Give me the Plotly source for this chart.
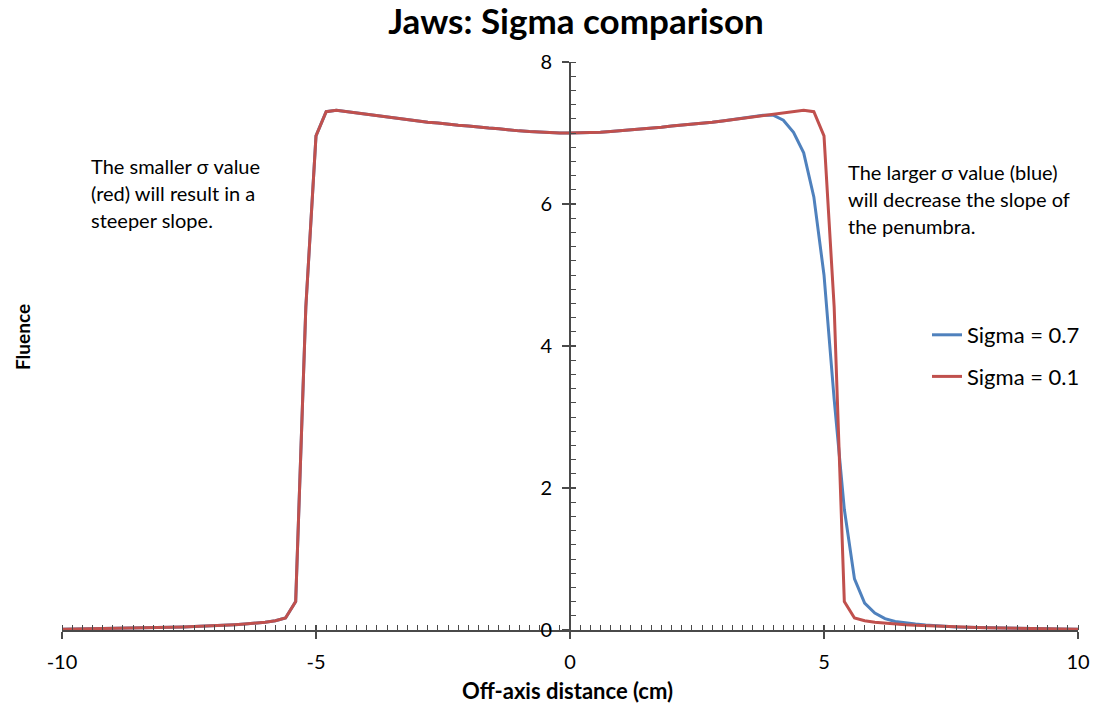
import plotly.graph_objects as go

# Off-axis positions (cm), sampled every 0.2 cm
x_cm = [round(-10 + 0.2 * i, 1) for i in range(101)]

# Fluence profile for sigma = 0.1 (sharp penumbra)
fluence_sigma_01 = [
    0.010, 0.012, 0.014, 0.016, 0.018, 0.020, 0.023, 0.026, 0.029, 0.032,
    0.035, 0.039, 0.043, 0.048, 0.053, 0.060, 0.067, 0.075, 0.085, 0.096,
    0.110, 0.130, 0.170, 0.400, 4.550, 6.960, 7.300, 7.320, 7.300, 7.280,
    7.260, 7.240, 7.220, 7.200, 7.190, 7.170, 7.150, 7.140, 7.120, 7.110,
    7.100, 7.080, 7.070, 7.060, 7.040, 7.030, 7.020, 7.010, 7.000, 7.000,
    7.000,
    7.000, 7.000, 7.010, 7.020, 7.030, 7.040, 7.060, 7.070, 7.080, 7.100,
    7.110, 7.120, 7.140, 7.150, 7.170, 7.190, 7.200, 7.220, 7.240, 7.260,
    7.280, 7.300, 7.320, 7.300, 6.960, 4.550, 0.400, 0.170, 0.130, 0.110,
    0.096, 0.085, 0.075, 0.067, 0.060, 0.053, 0.048, 0.043, 0.039, 0.035,
    0.032, 0.029, 0.026, 0.023, 0.020, 0.018, 0.016, 0.014, 0.012, 0.010,
]

# Fluence profile for sigma = 0.7 (wider penumbra on the right jaw)
fluence_sigma_07 = [
    0.010, 0.012, 0.014, 0.016, 0.018, 0.020, 0.023, 0.026, 0.029, 0.032,
    0.035, 0.039, 0.043, 0.048, 0.053, 0.060, 0.067, 0.075, 0.085, 0.096,
    0.110, 0.130, 0.170, 0.400, 4.550, 6.960, 7.300, 7.320, 7.300, 7.280,
    7.260, 7.240, 7.220, 7.200, 7.190, 7.170, 7.150, 7.140, 7.120, 7.110,
    7.100, 7.080, 7.070, 7.060, 7.040, 7.030, 7.020, 7.010, 7.000, 7.000,
    7.000,
    7.000, 7.000, 7.010, 7.020, 7.030, 7.040, 7.060, 7.070, 7.080, 7.100,
    7.110, 7.120, 7.140, 7.150, 7.170, 7.190, 7.210, 7.230, 7.250, 7.250,
    7.180, 7.010, 6.720, 6.100, 5.000, 3.250, 1.700, 0.720, 0.380, 0.240,
    0.160, 0.120, 0.100, 0.085, 0.072, 0.060, 0.050, 0.043, 0.039, 0.035,
    0.032, 0.029, 0.026, 0.023, 0.020, 0.018, 0.016, 0.014, 0.012, 0.010,
]

series_names = ["Sigma = 0.7", "Sigma = 0.1"]
series_colors = ["#4F81BD", "#C0504D"]

x_ticks = [-10, -5, 0, 5, 10]
y_ticks = [0, 2, 4, 6, 8]

left_note = ["The smaller σ value", "(red) will result in a", "steeper slope."]
right_note = ["The larger σ value (blue)", "will decrease the slope of", "the penumbra."]

FONT = "Lato"
AXIS_COLOR = "#4a4a4a"

# Plot-area geometry in pixels (used to place free text in paper coordinates)
ML, MR, MT, MB = 62, 16, 62, 77
W, H = 1094, 707
PW, PH = W - ML - MR, H - MT - MB


def px_x(px):
    return (px - ML) / PW


def px_y(py):
    return (H - MB - py) / PH


fig = go.Figure()
for i, (name, ys, col) in enumerate(zip(series_names, [fluence_sigma_07, fluence_sigma_01], series_colors)):
    fig.add_trace(go.Scatter(
        x=x_cm, y=ys, name=name, mode="lines", legendgroup=f"g{i}",
        line=dict(color=col, width=3),
    ))

# Empty trace that hosts the overlay axes used for the inner half of major ticks
fig.add_trace(go.Scatter(x=[], y=[], xaxis="x2", yaxis="y2",
                         showlegend=False, hoverinfo="skip"))

annotations = [
    dict(text="<b>Off-axis distance (cm)</b>", xref="paper", yref="paper",
         x=px_x(567), y=px_y(690), xanchor="center", yanchor="middle",
         showarrow=False, font=dict(family=FONT, size=22, color="#000000")),
    dict(text="<b>Fluence</b>", xref="paper", yref="paper",
         x=px_x(22), y=px_y(337), xanchor="center", yanchor="middle",
         textangle=-90, showarrow=False,
         font=dict(family=FONT, size=19, color="#000000")),
]
for line, cy in zip(left_note, [166, 193, 220]):
    annotations.append(dict(text=line, xref="paper", yref="paper",
                            x=px_x(89), y=px_y(cy), xanchor="left", yanchor="middle",
                            showarrow=False, font=dict(family=FONT, size=20, color="#000000")))
for line, cy in zip(right_note, [172, 199, 226]):
    annotations.append(dict(text=line, xref="paper", yref="paper",
                            x=px_x(846), y=px_y(cy), xanchor="left", yanchor="middle",
                            showarrow=False, font=dict(family=FONT, size=20, color="#000000")))

fig.update_layout(
    width=W, height=H,
    margin=dict(l=ML, r=MR, t=MT, b=MB, autoexpand=False),
    paper_bgcolor="white", plot_bgcolor="white",
    font=dict(family=FONT, color="#000000"),
    showlegend=True,
    legend=dict(
        x=px_x(927), y=px_y(356), xanchor="left", yanchor="middle",
        font=dict(family=FONT, size=22, color="#000000"),
        bgcolor="rgba(0,0,0,0)", tracegroupgap=10, itemwidth=30,
    ),
    xaxis=dict(
        range=[-10, 10], tickvals=x_ticks, ticktext=[str(v) for v in x_ticks],
        showgrid=False, zeroline=False, automargin=False,
        showline=True, linecolor=AXIS_COLOR, linewidth=1.8,
        ticks="outside", ticklen=7, tickwidth=1.6, tickcolor=AXIS_COLOR,
        minor=dict(dtick=0.2, ticks="inside", ticklen=5, tickwidth=1.3,
                   tickcolor=AXIS_COLOR, showgrid=False),
        tickfont=dict(family=FONT, size=20, color="#000000"),
        ticklabelstandoff=6,
        anchor="y",
    ),
    yaxis=dict(
        range=[0, 8], tickvals=y_ticks, ticktext=[str(v) for v in y_ticks],
        showgrid=False, zeroline=False, automargin=False,
        showline=True, linecolor=AXIS_COLOR, linewidth=1.8,
        ticks="outside", ticklen=7, tickwidth=1.6, tickcolor=AXIS_COLOR,
        minor=dict(dtick=0.2, ticks="inside", ticklen=5, tickwidth=1.3,
                   tickcolor=AXIS_COLOR, showgrid=False),
        tickfont=dict(family=FONT, size=20, color="#000000"),
        ticklabelstandoff=6,
        anchor="free", position=0.5,
    ),
    xaxis2=dict(
        range=[-10, 10], tickvals=x_ticks, overlaying="x", anchor="y",
        showgrid=False, zeroline=False, showline=False, showticklabels=False,
        automargin=False,
        ticks="inside", ticklen=5, tickwidth=1.6, tickcolor=AXIS_COLOR,
    ),
    yaxis2=dict(
        range=[0, 8], tickvals=y_ticks, overlaying="y", anchor="free", position=0.5,
        showgrid=False, zeroline=False, showline=False, showticklabels=False,
        automargin=False,
        ticks="inside", ticklen=5, tickwidth=1.6, tickcolor=AXIS_COLOR,
    ),
    title=dict(
        text="<b>Jaws: Sigma comparison</b>",
        x=px_x(576), xref="paper", xanchor="center",
        y=1 - 22 / H, yref="container", yanchor="middle",
        font=dict(family=FONT, size=35, color="#000000"),
    ),
    annotations=annotations,
)

fig.write_html("out.html")
